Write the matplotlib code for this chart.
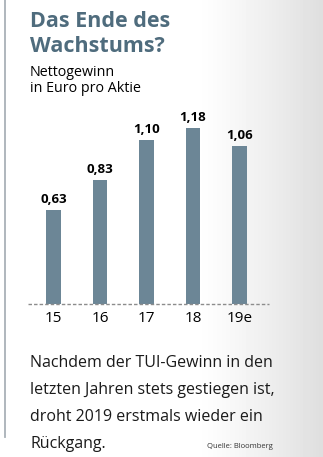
import matplotlib
matplotlib.use("Agg")
import matplotlib.pyplot as plt
import numpy as np

plt.rcParams.update({"font.family": ["Open Sans", "DejaVu Sans"]})

years = ["15", "16", "17", "18", "19e"]
eps = [0.63, 0.83, 1.10, 1.18, 1.06]
labels = ["0,63", "0,83", "1,10", "1,18", "1,06"]

W, H = 323, 457
BAR = "#6c8696"
TITLE = "#4f6c7d"

fig = plt.figure(figsize=(W / 100, H / 100), dpi=100)


def fx(x):
    return x / W


def fy(y):
    return 1 - y / H


# background: white fading to light grey at the right edge
bg = fig.add_axes([0, 0, 1, 1], zorder=-5)
xs = np.arange(W)
t = np.clip((xs - 195) / (W - 195), 0, 1)
grad = 1 - 0.13 * t ** 1.2
bg.imshow(grad[None, :], cmap="gray", vmin=0, vmax=1, aspect="auto",
          extent=[0, 1, 0, 1])
bg.plot([fx(4.5), fx(4.5)], [fy(0), fy(437)], color="#a9b1b8", lw=1.3)
bg.set_xlim(0, 1); bg.set_ylim(0, 1)
bg.axis("off")

# title + subtitle
fig.text(fx(30), fy(27), "Das Ende des", fontsize=15.5, fontweight="bold",
         color=TITLE, va="baseline")
fig.text(fx(30), fy(52), "Wachstums?", fontsize=15.5, fontweight="bold",
         color=TITLE, va="baseline")
fig.text(fx(30), fy(76), "Nettogewinn", fontsize=10.3, color="black", va="baseline")
fig.text(fx(30), fy(92), "in Euro pro Aktie", fontsize=10.3, color="black", va="baseline")

# bar chart
x0, x1, base, top = 28, 269, 304, 110
ax = fig.add_axes([fx(x0), fy(base), (x1 - x0) / W, (base - top) / H])
ax.patch.set_alpha(0)
pos = np.arange(len(years))
ax.bar(pos, eps, width=0.32, color=BAR, zorder=2)
for p, v, s in zip(pos, eps, labels):
    ax.text(p, v + 0.03, s, ha="center", va="bottom", fontsize=9.5,
            fontweight="bold", color="black")
ax.axhline(0, color="#8c8c8c", lw=1.0, ls=(0, (2.5, 1.5)), clip_on=False, zorder=3)
ax.set_xlim(-0.548, 4.634)
ax.set_ylim(0, 1.302)
ax.set_xticks(pos, years)
ax.tick_params(axis="x", length=0, pad=5, labelsize=11)
ax.set_yticks([])
for sp in ax.spines.values():
    sp.set_visible(False)

# body text
body = ["Nachdem der TUI-Gewinn in den",
        "letzten Jahren stets gestiegen ist,",
        "droht 2019 erstmals wieder ein",
        "Rückgang."]
for i, line in enumerate(body):
    fig.text(fx(30), fy(367 + i * 27), line, fontsize=11.5, color="#1a1a1a",
             va="baseline")
fig.text(fx(207), fy(448), "Quelle: Bloomberg", fontsize=5.5, color="#333333",
         va="baseline")

fig.savefig("out.png", dpi=100)
